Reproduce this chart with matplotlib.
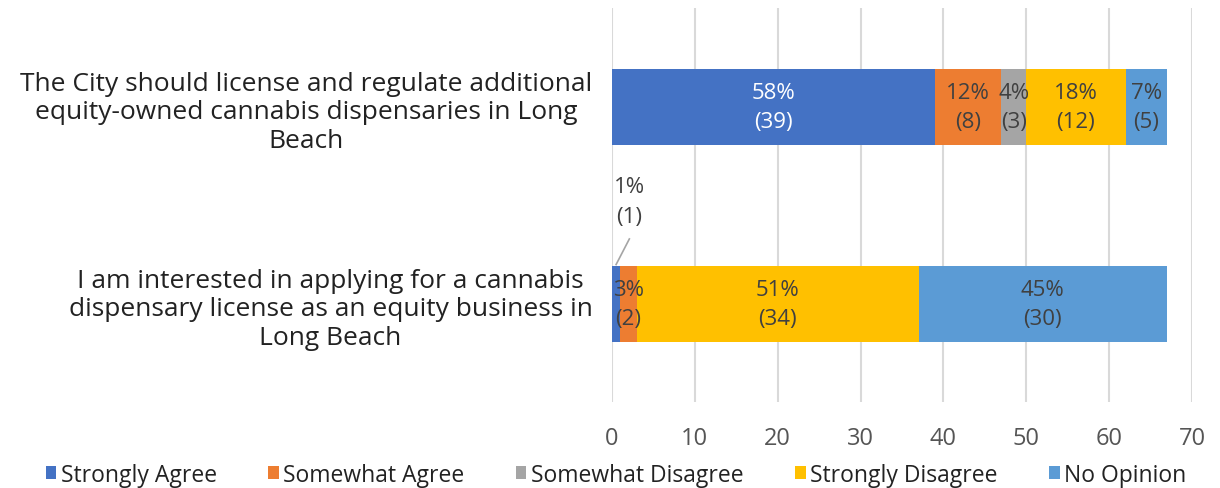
import numpy as np
import matplotlib.pyplot as plt

plt.rcParams['font.family'] = ['Open Sans', 'DejaVu Sans']

questions = ['The City should license and regulate additional\nequity-owned cannabis dispensaries in Long\nBeach',
             'I am interested in applying for a cannabis\ndispensary license as an equity business in\nLong Beach']
responses = ['Strongly Agree', 'Somewhat Agree', 'Somewhat Disagree', 'Strongly Disagree', 'No Opinion']
colors = ['#4472C4', '#ED7D31', '#A5A5A5', '#FFC000', '#5B9BD5']

# respondent counts, one list per response, in question order
strongly_agree = [39, 1]
somewhat_agree = [8, 2]
somewhat_disagree = [3, 0]
strongly_disagree = [12, 34]
no_opinion = [5, 30]
counts = np.array([strongly_agree, somewhat_agree, somewhat_disagree, strongly_disagree, no_opinion], float)
totals = counts.sum(0)

fig = plt.figure(figsize=(12.2, 4.89), dpi=100)
ax = fig.add_axes([0.5016, 0.175, 0.4754, 0.8056])

y = np.arange(len(questions))
left = np.zeros(len(questions))
dark = '#404040'
lab_fs = 16
for i, (name, col) in enumerate(zip(responses, colors)):
    vals = counts[i]
    ax.barh(y, vals, left=left, height=0.39, color=col, label=name, zorder=2)
    for j, v in enumerate(vals):
        if v == 0:
            continue
        txt = '%d%%\n(%d)' % (round(100 * v / totals[j]), v)
        tc = 'white' if i == 0 else dark
        if v < 1.5:
            # tiny segment: label sits above the bar with a leader line
            ax.text(left[j] + 2.1, y[j] - 0.52, txt, ha='center', va='center', color=dark,
                    fontsize=lab_fs, linespacing=1.55)
            ax.plot([left[j] + v / 2, left[j] + 2.1], [y[j] - 0.2, y[j] - 0.33], color='#A5A5A5', lw=1.2, zorder=3)
        else:
            ax.text(left[j] + v / 2, y[j], txt, ha='center', va='center', color=tc,
                    fontsize=lab_fs, linespacing=1.55, zorder=3)
    left += vals

ax.set_xlim(0, 70)
ax.set_ylim(1.5, -0.5)
ax.set_xticks(np.arange(0, 71, 10))
ax.set_yticks(y)
ax.set_yticklabels(questions, fontsize=19, multialignment='center', color='#222222', linespacing=1.18)
ax.tick_params(axis='y', length=0, pad=14)
ax.tick_params(axis='x', length=0, pad=17, labelsize=17, labelcolor='#555555')
ax.grid(axis='x', color='#D9D9D9', lw=1.5, zorder=0)
ax.set_axisbelow(True)
for s in ax.spines.values():
    s.set_visible(False)

fig.legend(loc='center', bbox_to_anchor=(0.505, 0.027), ncol=5, frameon=False, fontsize=16.5,
           handlelength=0.45, handleheight=0.45, handletextpad=0.2, columnspacing=2.25,
           labelcolor='#222222')

fig.savefig('out.png', dpi=100)
